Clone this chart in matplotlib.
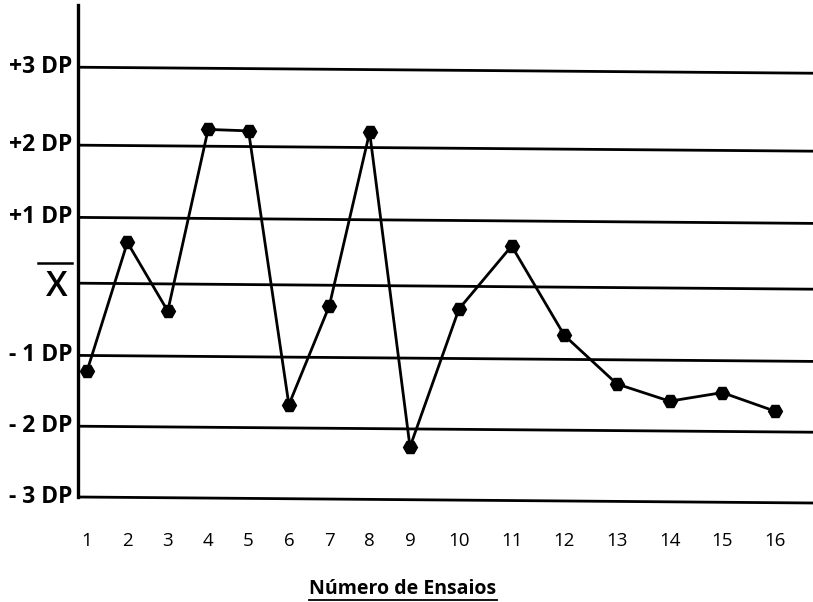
import numpy as np
import matplotlib
matplotlib.use("Agg")
import matplotlib.pyplot as plt

# ---- data ----
trials = list(range(1, 17))
values = [-1.23, 0.57, -0.39, 2.15, 2.13, -1.70, -0.32, 2.11,
          -2.29, -0.36, 0.52, -0.73, -1.41, -1.65, -1.53, -1.79]
level_pos = [3.02, 1.93, 0.92, 0.0, -1.01, -2.0, -2.99]
level_labels = ["+3 DP", "+2 DP", "+1 DP", "X", "- 1 DP", "- 2 DP", "- 3 DP"]
xlabel = "Número de Ensaios"

# non-uniform horizontal spacing of the trials, as in the picture
knots_x = [0, 1, 9, 10, 16, 18]
knots_p = [46.6, 87, 410, 459, 775, 880.4]

def fwd(x):
    return np.interp(x, knots_x, knots_p)

def inv(p):
    return np.interp(p, knots_p, knots_x)

W, H = 813, 602
fig = plt.figure(figsize=(W / 100, H / 100), dpi=100)
ax = fig.add_axes([78 / W, (H - 497) / H, (W - 78) / W, (497 - 5) / H])
ax.set_xscale("function", functions=(fwd, inv))
x0, x1 = float(inv(78)), float(inv(813))
ax.set_xlim(x0, x1)
ax.set_ylim(-2.99, 3.89)

tilt = 0.084
for lv in level_pos:
    ax.plot([x0, x1], [lv, lv - tilt], color="black", lw=2.0,
            solid_capstyle="butt", clip_on=False, zorder=2)

ax.plot(trials, values, color="black", lw=2.0, marker="H", markersize=10,
        zorder=3, clip_on=False)

for s in ["top", "right", "bottom"]:
    ax.spines[s].set_visible(False)
ax.spines["left"].set_linewidth(2.4)
ax.spines["left"].set_zorder(4)

ax.set_yticks([])
ax.set_xticks(trials)
ax.set_xticklabels([str(t) for t in trials], fontsize=13.5, family="Open Sans")
ax.tick_params(axis="x", length=0, pad=25)

for lv, lab in zip(level_pos, level_labels):
    if lab == "X":
        ax.annotate("X", xy=(0, lv), xycoords=("axes fraction", "data"),
                    xytext=(-15.5, -2.5), textcoords="offset points",
                    ha="center", va="center", fontsize=25,
                    family="Open Sans", fontweight="semibold")
        ax.plot([-40 / (W - 78), -6 / (W - 78)], [lv + 0.28, lv + 0.28],
                transform=ax.get_yaxis_transform(), color="black", lw=1.8,
                clip_on=False)
    else:
        ax.annotate(lab, xy=(0, lv), xycoords=("axes fraction", "data"),
                    xytext=(-4, 0), textcoords="offset points",
                    ha="right", va="center", fontsize=16.5,
                    family="Open Sans", fontweight="bold")

# x-axis title with underline
tx = fig.text(403 / W, 1 - 589.5 / H, xlabel, ha="center", va="center",
              fontsize=14, family="Open Sans", fontweight="bold")
fig.canvas.draw()
bb = tx.get_window_extent()
fig.add_artist(plt.Line2D([bb.x0 / W, bb.x1 / W],
                          [(H - 599.5) / H, (H - 599.5) / H],
                          transform=fig.transFigure, color="black", lw=1.3))

fig.savefig("out.png", dpi=100)
